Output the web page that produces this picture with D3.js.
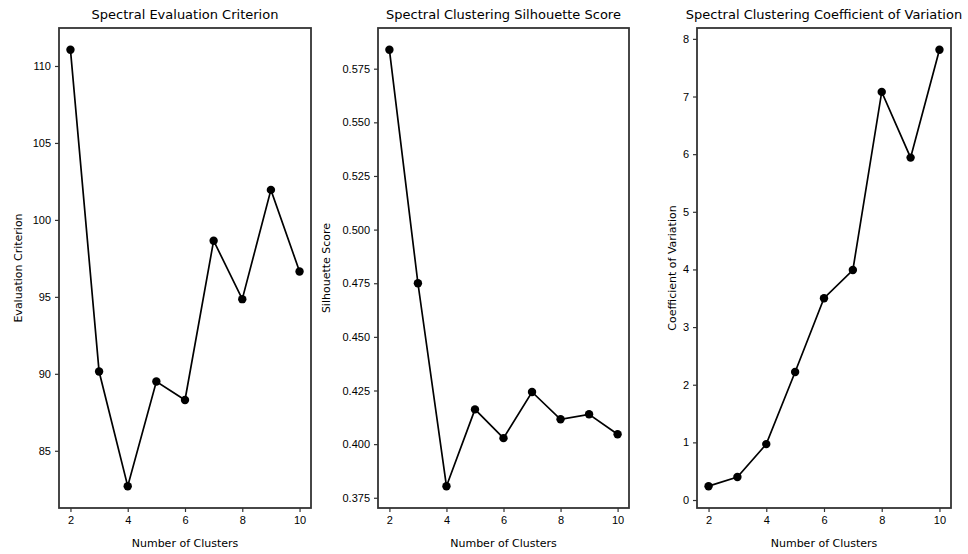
<!DOCTYPE html>
<html>
<head>
<meta charset="utf-8">
<script src="https://cdn.jsdelivr.net/npm/d3@7"></script>
<style>
  body { margin: 0; background: #fff; }
  svg { display: block; font-family: "DejaVu Sans", sans-serif; }
  .tick text { font-size: 11px; fill: #000; }
</style>
</head>
<body>
<div id="chart"></div>
<script>
/* DATA */
const clusters = [2, 3, 4, 5, 6, 7, 8, 9, 10];
const evalCriterion = [111.05, 90.15, 82.7, 89.5, 88.3, 98.65, 94.85, 101.95, 96.65];
const silhouette = [0.5838, 0.475, 0.3804, 0.4162, 0.4028, 0.4243, 0.4116, 0.4139, 0.4046];
const coefVariation = [0.24, 0.40, 0.97, 2.22, 3.50, 3.99, 7.08, 5.94, 7.81];
const xTicks = [2, 4, 6, 8, 10];
const evalTicks = [85, 90, 95, 100, 105, 110];
const silTicks = [0.375, 0.400, 0.425, 0.450, 0.475, 0.500, 0.525, 0.550, 0.575];
const cvTicks = [0, 1, 2, 3, 4, 5, 6, 7, 8];

const width = 968, height = 554;

const panels = [
  { title: "Spectral Evaluation Criterion", ylabel: "Evaluation Criterion",
    values: evalCriterion, ticks: evalTicks, fmt: d3.format("d"),
    left: 59, right: 311, ylabelX: 18 },
  { title: "Spectral Clustering Silhouette Score", ylabel: "Silhouette Score",
    values: silhouette, ticks: silTicks, fmt: d3.format(".3f"),
    left: 378, right: 629, ylabelX: 326 },
  { title: "Spectral Clustering Coefficient of Variation", ylabel: "Coefficient of Variation",
    values: coefVariation, ticks: cvTicks, fmt: d3.format("d"),
    left: 697, right: 951, ylabelX: 672 }
];
const plotTop = 28, plotBottom = 508;

const svg = d3.select("#chart").append("svg")
  .attr("width", width)
  .attr("height", height);

panels.forEach(p => {
  const g = svg.append("g");

  // matplotlib style 5% margins
  const xPad = (10 - 2) * 0.05;
  const xScale = d3.scaleLinear()
    .domain([2 - xPad, 10 + xPad])
    .range([p.left, p.right]);

  const [lo, hi] = d3.extent(p.values);
  const yPad = (hi - lo) * 0.05;
  const yScale = d3.scaleLinear()
    .domain([lo - yPad, hi + yPad])
    .range([plotBottom, plotTop]);

  // axes
  const xAxis = d3.axisBottom(xScale).tickValues(xTicks).tickSize(4).tickPadding(4);
  const yAxis = d3.axisLeft(yScale).tickValues(p.ticks).tickFormat(p.fmt).tickSize(4).tickPadding(4);

  g.append("g")
    .attr("transform", `translate(0,${plotBottom})`)
    .call(xAxis)
    .call(a => a.select(".domain").remove());

  g.append("g")
    .attr("transform", `translate(${p.left},0)`)
    .call(yAxis)
    .call(a => a.select(".domain").remove());

  g.selectAll(".tick line").attr("stroke", "#333").attr("stroke-width", 1.2);

  // frame
  g.append("rect")
    .attr("x", p.left)
    .attr("y", plotTop)
    .attr("width", p.right - p.left)
    .attr("height", plotBottom - plotTop)
    .attr("fill", "none")
    .attr("stroke", "#333")
    .attr("stroke-width", 1.8);

  // line + markers
  const line = d3.line()
    .x((d, i) => xScale(clusters[i]))
    .y(d => yScale(d));

  g.append("path")
    .datum(p.values)
    .attr("d", line)
    .attr("fill", "none")
    .attr("stroke", "#000")
    .attr("stroke-width", 1.7);

  g.selectAll(".dot")
    .data(p.values)
    .enter()
    .append("circle")
    .attr("class", "dot")
    .attr("cx", (d, i) => xScale(clusters[i]))
    .attr("cy", d => yScale(d))
    .attr("r", 4.2)
    .attr("fill", "#000");

  // texts
  g.append("text")
    .attr("x", (p.left + p.right) / 2)
    .attr("y", 19)
    .attr("text-anchor", "middle")
    .style("font-size", "13px")
    .attr("fill", "#000")
    .text(p.title);

  g.append("text")
    .attr("x", (p.left + p.right) / 2)
    .attr("y", 547)
    .attr("text-anchor", "middle")
    .style("font-size", "11px")
    .attr("fill", "#000")
    .text("Number of Clusters");

  g.append("text")
    .attr("transform", `translate(${p.ylabelX},${(plotTop + plotBottom) / 2}) rotate(-90)`)
    .attr("text-anchor", "middle")
    .attr("dy", "0.35em")
    .style("font-size", "11px")
    .attr("fill", "#000")
    .text(p.ylabel);
});
</script>
</body>
</html>
